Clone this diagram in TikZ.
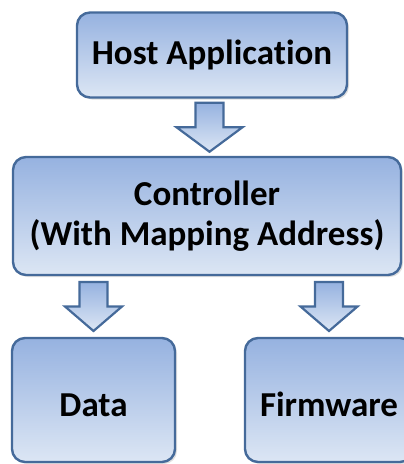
\documentclass[tikz,border=0pt]{standalone}
\usepackage{fontspec}
\setmainfont{Carlito}[Ligatures={NoCommon}]
\usetikzlibrary{shadows,calc}

\definecolor{boxline}{HTML}{456A9A}
\definecolor{boxtop}{HTML}{96B2E0}
\definecolor{boxbottom}{HTML}{DCE6F4}

\tikzset{
  every node/.style={font=\bfseries\fontsize{35}{40}\selectfont,text=black},
  block/.style={draw=boxline,line width=2.4pt,rounded corners=13pt,
    top color=boxtop,bottom color=boxbottom,inner sep=0pt,align=center,
    drop shadow={opacity=0.25,shadow xshift=2pt,shadow yshift=-2pt}},
  lowtext/.style={text height=33pt},
  pics/blockdown/.style={code={
    \draw[draw=boxline,line width=2.2pt,line join=miter,top color=boxtop,bottom color=boxbottom]
      (-14,-24.5) -- (14,-24.5) -- (14,0) -- (#1,0) -- (0,24.5)
      -- (-#1,0) -- (-14,0) -- cycle;}}
}

\begin{document}
\begin{tikzpicture}[x=1pt,y=-1pt]
\useasboundingbox (0,0) rectangle (404,464);
\clip (0,0) rectangle (404,464);
\node[block,minimum width=270pt,minimum height=85pt] (host) at (212,55) {Host Application};
\node[block,minimum width=388pt,minimum height=118pt] (ctrl) at (207,216) {Controller\\(With Mapping Address)};
\node[block,lowtext,minimum width=163pt,minimum height=124pt] (data) at (93.5,400) {Data};
\node[block,lowtext,minimum width=168pt,minimum height=124pt] (firm) at (329,400) {Firmware};
% block arrows between the boxes
\path ($(host.south)!0.5!(ctrl.north)$) pic {blockdown=33};
\path ($(ctrl.south -| data.north)!0.5!(data.north)$) pic {blockdown=28.5};
\path ($(ctrl.south -| firm.north)!0.5!(firm.north)$) pic {blockdown=28.5};
\end{tikzpicture}
\end{document}
